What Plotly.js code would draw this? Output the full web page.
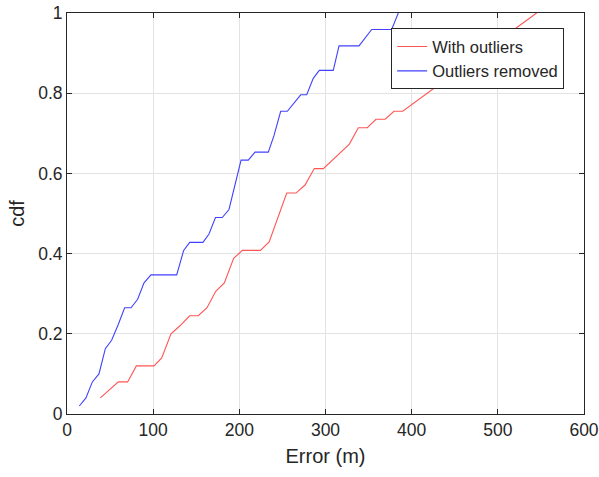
<!DOCTYPE html>
<html>
<head>
<meta charset="utf-8">
<script src="https://cdn.plot.ly/plotly-3.0.1.min.js"></script>
<style>html,body{margin:0;padding:0;background:#fff;}#chart{width:599px;height:477px;}</style>
</head>
<body>
<div id="chart"></div>
<script>
var withOutliersX = [38.7, 59.6, 70.4, 80.5, 101, 109.9, 120.7, 131.1, 142.4, 152.4, 162.5, 172.6, 182.6, 193.4, 203.5, 224.5, 234.6, 255, 265.8, 276.2, 287, 297.5, 327.7, 338.1, 348.5, 358.6, 369.2, 379.5, 389.6, 545];
var withOutliersY = [0.04, 0.08, 0.08, 0.12, 0.12, 0.14, 0.20, 0.22, 0.245, 0.245, 0.265, 0.306, 0.327, 0.388, 0.408, 0.408, 0.429, 0.551, 0.551, 0.571, 0.612, 0.612, 0.673, 0.714, 0.714, 0.735, 0.735, 0.755, 0.755, 1.0];
var removedX = [14.3, 22, 29.4, 37.1, 44.5, 51.8, 59.6, 66.9, 74.3, 82, 89.4, 97.5, 127.3, 135.4, 142.4, 157.8, 164.8, 172.3, 180.2, 188, 202, 210.4, 218.2, 233.6, 240.2, 248, 255.7, 263.4, 271.2, 278.2, 285.8, 292.8, 309, 315.7, 338.9, 353.6, 376.8, 384.5];
var removedY = [0.02, 0.04, 0.08, 0.10, 0.163, 0.184, 0.224, 0.265, 0.265, 0.286, 0.327, 0.347, 0.347, 0.408, 0.428, 0.428, 0.449, 0.49, 0.49, 0.51, 0.633, 0.633, 0.653, 0.653, 0.694, 0.755, 0.755, 0.776, 0.796, 0.796, 0.837, 0.857, 0.857, 0.918, 0.918, 0.959, 0.959, 1.0];
var seriesNames = ["With outliers", "Outliers removed"];
var xTicks = [0, 100, 200, 300, 400, 500, 600];
var yTicks = [0, 0.2, 0.4, 0.6, 0.8, 1];
var yTickLabels = ["0", "0.2", "0.4", "0.6", "0.8", "1"];

var font = "Liberation Sans, Arial, sans-serif";
var traces = [
  {x: withOutliersX, y: withOutliersY, name: seriesNames[0], type: "scatter", mode: "lines",
   line: {color: "rgb(255,85,85)", width: 1.1}},
  {x: removedX, y: removedY, name: seriesNames[1], type: "scatter", mode: "lines",
   line: {color: "rgb(65,65,255)", width: 1.1}}
];
var axisCommon = {
  showline: true, linecolor: "#262626", linewidth: 1, mirror: "ticks",
  ticks: "inside", ticklen: 5, tickcolor: "#262626",
  showgrid: true, gridcolor: "#e3e3e3", gridwidth: 1, zeroline: false,
  ticklabeloverflow: "allow",
  tickfont: {family: font, size: 17.5, color: "#262626"}
};
var layout = {
  width: 599, height: 477,
  margin: {l: 67, r: 15, t: 13, b: 63},
  paper_bgcolor: "#fff", plot_bgcolor: "#fff",
  showlegend: true,
  xaxis: Object.assign({}, axisCommon, {
    range: [0, 600], tickvals: xTicks, ticktext: xTicks.map(String),
    title: {text: "Error (m)", font: {family: font, size: 20, color: "#262626"}, standoff: 9}
  }),
  yaxis: Object.assign({}, axisCommon, {
    range: [0, 1], tickvals: yTicks, ticktext: yTickLabels,
    title: {text: "cdf", font: {family: font, size: 20, color: "#262626"}, standoff: 8}
  }),
  legend: {
    x: 0.627, y: 0.962, xanchor: "left", yanchor: "top",
    bgcolor: "#fff", bordercolor: "#262626", borderwidth: 1,
    font: {family: font, size: 16.5, color: "#262626"},
    tracegroupgap: 0, itemwidth: 30
  }
};
Plotly.newPlot("chart", traces, layout, {staticPlot: true});
</script>
</body>
</html>
